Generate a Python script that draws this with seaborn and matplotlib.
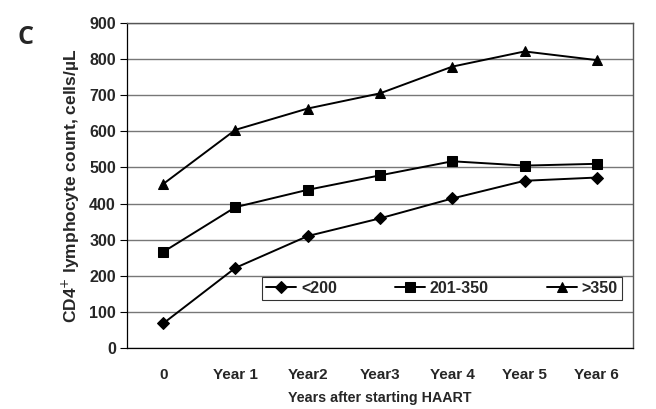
import numpy as np
import pandas as pd
import matplotlib
matplotlib.use("Agg")
import matplotlib.pyplot as plt
import seaborn as sns

years = ["0", "Year 1", "Year2", "Year3", "Year 4", "Year 5", "Year 6"]
groups = ["<200", "201-350", ">350"]
low = [68, 222, 310, 359, 414, 463, 472]
mid = [266, 390, 438, 478, 517, 505, 510]
high = [454, 604, 663, 705, 779, 821, 797]

df = pd.DataFrame({
    "year": years * 3,
    "count": low + mid + high,
    "group": [groups[0]] * 7 + [groups[1]] * 7 + [groups[2]] * 7,
})

sns.set_theme(style="white")
plt.rcParams["font.family"] = ["Liberation Sans", "DejaVu Sans"]

fig = plt.figure(figsize=(6.56, 4.09), dpi=100)
ax = fig.add_axes([0.1936, 0.149, 0.7713, 0.795])

sns.lineplot(data=df, x="year", y="count", hue="group", style="group",
             markers={"<200": "D", "201-350": "s", ">350": "^"},
             dashes=False, palette=["black"] * 3, sort=False,
             markersize=6.5, linewidth=1.4, markeredgecolor="black", ax=ax)

ax.set_ylim(0, 900)
ax.set_xlim(-0.5, 6.5)
ax.set_yticks(range(0, 901, 100))
ax.yaxis.grid(True, color="#777777", linewidth=1.0)
ax.set_axisbelow(True)

ax.set_xticks(range(7))
ax.set_xticklabels(years, fontsize=11, fontweight="bold")
ax.tick_params(axis="x", which="major", length=0, pad=14)
ax.set_xticks(np.arange(-0.5, 6.6, 1.0), minor=True)
ax.tick_params(axis="x", which="minor", length=4, color="black", width=0.8, direction="out")
ax.tick_params(axis="y", length=5, color="black", width=0.8, direction="out", pad=3,
               left=True)
for lab in ax.get_yticklabels():
    lab.set_fontweight("bold")
    lab.set_fontsize(11.5)

for s in ["left", "bottom"]:
    ax.spines[s].set_color("black")
    ax.spines[s].set_linewidth(0.9)
for s in ["top", "right"]:
    ax.spines[s].set_color("#555555")
    ax.spines[s].set_linewidth(1.0)

ax.set_xlabel("Years after starting HAART", fontsize=10.3, fontweight="bold", labelpad=7)
ax.set_ylabel("CD4$^{+}$ lymphocyte count, cells/µL", fontsize=12.5, fontweight="bold", labelpad=5)

leg = ax.legend(loc="lower left", bbox_to_anchor=(0.267, 0.148, 0.711, 0.08), mode="expand",
                ncol=3, frameon=True, fancybox=False, fontsize=11.5, handlelength=1.9,
                handletextpad=0.3, borderaxespad=0, title=None, borderpad=0.25)
leg.get_frame().set_edgecolor("black")
leg.get_frame().set_linewidth(0.8)
for t in leg.get_texts():
    t.set_fontweight("bold")

fig.text(0.026, 0.893, "C", fontsize=18, fontweight="bold", family=["Open Sans", "DejaVu Sans"])

fig.savefig("out.png", dpi=100)
